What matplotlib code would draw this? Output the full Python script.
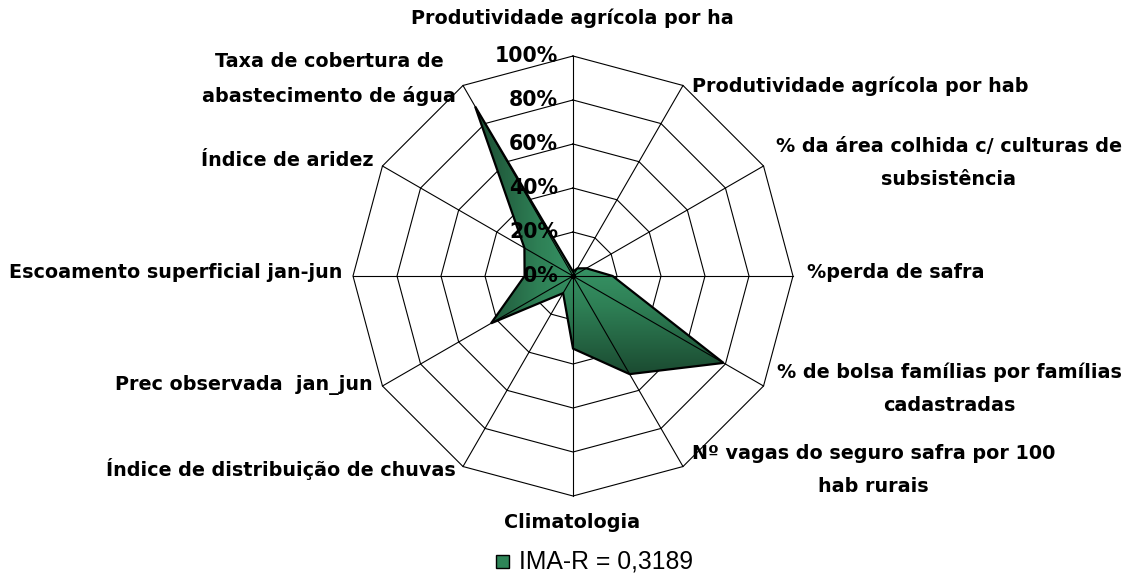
import numpy as np
import matplotlib
matplotlib.use("Agg")
import matplotlib.pyplot as plt
from matplotlib.colors import LinearSegmentedColormap
from matplotlib.patches import Polygon, Rectangle

# ---- data ----
categories = [
    "Produtividade agrícola por ha",
    "Produtividade agrícola por hab",
    "% da área colhida c/ culturas de\nsubsistência",
    "%perda de safra",
    "% de bolsa famílias por famílias\ncadastradas",
    "Nº vagas do seguro safra por 100\nhab rurais",
    "Climatologia",
    "Índice de distribuição de chuvas",
    "Prec observada  jan_jun",
    "Escoamento superficial jan-jun",
    "Índice de aridez",
    "Taxa de cobertura de\nabastecimento de água",
]
values = [2, 4, 7, 18, 79, 51.5, 33, 9, 43, 22, 25.5, 89]   # percent
ring_ticks = [0, 20, 40, 60, 80, 100]
tick_labels = ["0%", "20%", "40%", "60%", "80%", "100%"]
series_name = "IMA-R = 0,3189"

# ---- layout (pixel geometry of the figure) ----
W, H = 1132, 584
CX, CY, R = 573, 276, 220

fig = plt.figure(figsize=(W / 100, H / 100), dpi=100)
ax = fig.add_axes([0, 0, 1, 1])
ax.set_xlim(-CX / R, (W - CX) / R)
ax.set_ylim(-(H - CY) / R, CY / R)
ax.set_aspect("equal")
ax.axis("off")

n = len(categories)
theta = np.arange(n) * 2 * np.pi / n  # clockwise from top


def xy(r, th):
    return r * np.sin(th), r * np.cos(th)


def px(x, y):
    """pixel position -> data coordinates"""
    return (x - CX) / R, (CY - y) / R


# rings (under the fill)
for t in ring_ticks[1:]:
    rx, ry = xy(t / 100.0, np.append(theta, theta[0]))
    ax.plot(rx, ry, color="black", lw=0.8, zorder=1)

# filled series with a rectangular "from centre" gradient
r_vals = np.array(values) / 100.0
sx, sy = xy(r_vals, theta)
poly_pts = np.column_stack([sx, sy])
cmap = LinearSegmentedColormap.from_list("g", ["#3da06f", "#2e7f55", "#1b4b31"])
x0, x1 = sx.min(), sx.max()
y0, y1 = sy.min(), sy.max()
gx = np.linspace(x0, x1, 400)
gy = np.linspace(y0, y1, 400)
GX, GY = np.meshgrid(gx, gy)
mx, my = (x0 + x1) / 2, (y0 + y1) / 2
T = np.maximum(np.abs(GX - mx) / ((x1 - x0) / 2), np.abs(GY - my) / ((y1 - y0) / 2))
im = ax.imshow(T, extent=[x0, x1, y0, y1], origin="lower", cmap=cmap,
               vmin=0, vmax=1, zorder=2, interpolation="bilinear")
clip = Polygon(poly_pts, closed=True, facecolor="none", edgecolor="none", transform=ax.transData)
ax.add_patch(clip)
im.set_clip_path(clip)
ax.add_patch(Polygon(poly_pts, closed=True, facecolor="none", edgecolor="black",
                     lw=1.6, zorder=4, joinstyle="miter"))

# spokes (over the fill)
for th in theta:
    ex, ey = xy(1.0, th)
    ax.plot([0, ex], [0, ey], color="black", lw=0.8, zorder=3)
ax.plot([0], [0], "o", color="black", ms=3, zorder=5)

# ring tick labels
for t, lab in zip(ring_ticks, tick_labels):
    ax.text(px(558, 0)[0], t / 100.0, lab, ha="right", va="center",
            fontsize=14.8, fontweight="bold", family="DejaVu Sans", zorder=6)

# category labels: (pixel x, pixel y, ha)
label_pos = [
    (572, 18, "center"),
    (692, 86, "left"),
    (776, 163, "left"),
    (807, 273, "left"),
    (777, 389, "left"),
    (692, 470, "left"),
    (572, 523, "center"),
    (456, 469, "right"),
    (373, 385, "right"),
    (342, 273, "right"),
    (374, 161, "right"),
    (456, 79, "right"),
]
for lab, (lx, ly, ha) in zip(categories, label_pos):
    dx, dy = px(lx, ly)
    ax.text(dx, dy, lab, ha=ha, va="center", multialignment="center",
            fontsize=13.8, fontweight="bold", family="DejaVu Sans",
            linespacing=1.9, zorder=6)

# legend
lx, ly = px(496, 568)
sq = 13 / R
ax.add_patch(Rectangle((lx, ly), sq, sq, facecolor="#2e8558", edgecolor="black", lw=1.0, zorder=6))
tx, ty = px(519, 561)
ax.text(tx, ty, series_name, ha="left", va="center", fontsize=17.8,
        family="Liberation Sans", zorder=6)

fig.savefig("out.png", dpi=100)
